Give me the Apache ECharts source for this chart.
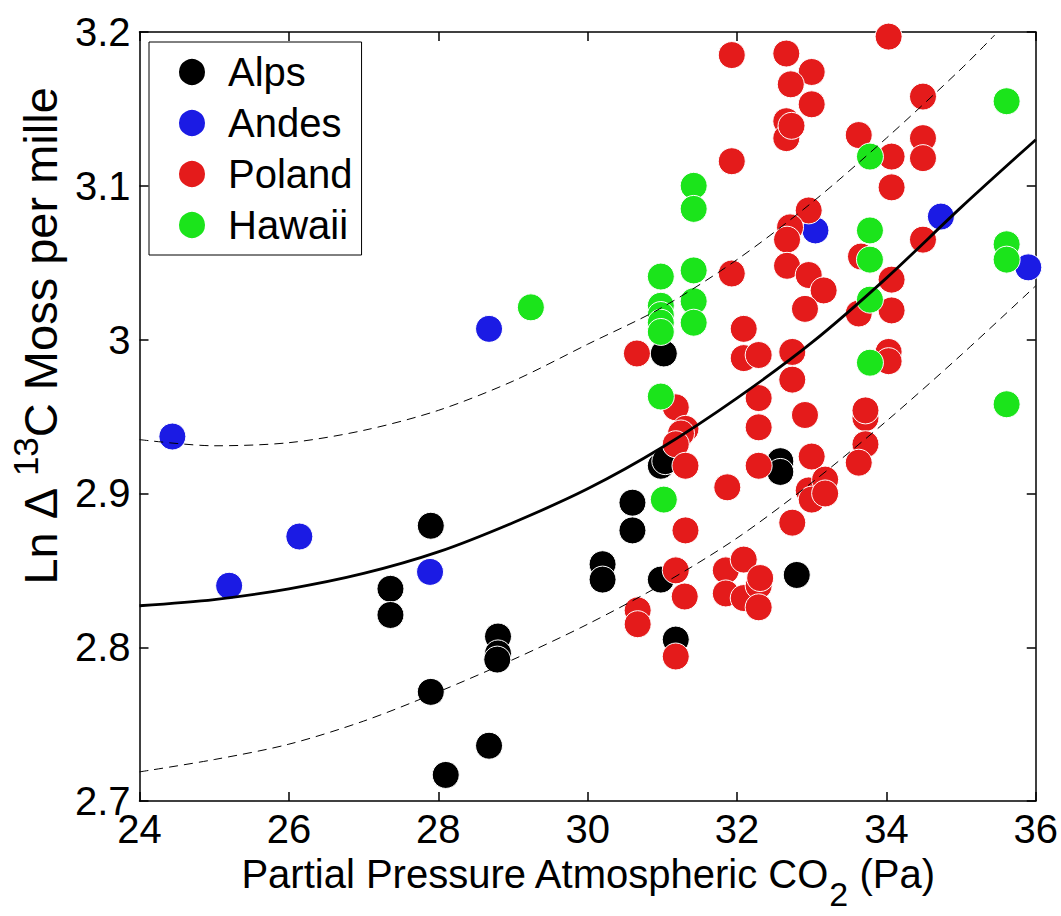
<!DOCTYPE html>
<html>
<head>
<meta charset="utf-8">
<script src="https://cdn.jsdelivr.net/npm/echarts@6/dist/echarts.min.js"></script>
<style>
  html, body { margin: 0; padding: 0; background: #fff; }
  #chart { width: 1061px; height: 916px; }
</style>
</head>
<body>
<div id="chart"></div>
<script>
// [CO2 partial pressure (Pa), ln Δ13C moss]
const alps = [
  [31.02, 2.991], [30.60, 2.894], [30.60, 2.876], [30.20, 2.854], [30.20, 2.844],
  [30.98, 2.918], [31.04, 2.921], [30.98, 2.844], [31.18, 2.805], [32.58, 2.921],
  [32.58, 2.914], [32.80, 2.847], [27.90, 2.879], [27.36, 2.838], [27.36, 2.821],
  [28.80, 2.807], [28.80, 2.796], [28.79, 2.792], [27.90, 2.771], [28.68, 2.736],
  [28.10, 2.717],
];
const andes = [
  [24.44, 2.937], [25.20, 2.840], [26.14, 2.872], [27.89, 2.849], [28.68, 3.007],
  [33.05, 3.071], [34.73, 3.080], [35.90, 3.047],
];
const poland = [
  [31.93, 3.185], [32.66, 3.186], [33.00, 3.174], [32.72, 3.166], [33.00, 3.153],
  [32.66, 3.142], [32.66, 3.131], [32.73, 3.139], [33.63, 3.133], [31.93, 3.116],
  [32.96, 3.084], [32.71, 3.073], [32.67, 3.065], [32.67, 3.048], [32.96, 3.042],
  [33.16, 3.032], [31.93, 3.043], [32.91, 3.020], [33.66, 3.054], [34.03, 3.197],
  [34.49, 3.158], [34.49, 3.131], [34.49, 3.118], [34.07, 3.119], [34.07, 3.099],
  [34.49, 3.065], [34.07, 3.039], [33.63, 3.017], [34.07, 3.019], [34.03, 2.992],
  [34.03, 2.986], [33.72, 2.949], [33.72, 2.954], [33.72, 2.932], [33.63, 2.920],
  [30.66, 2.991], [31.18, 2.956], [31.31, 2.942], [31.25, 2.939], [31.18, 2.932],
  [31.31, 2.918], [31.31, 2.876], [31.87, 2.904], [32.29, 2.918], [33.00, 2.924],
  [32.96, 2.902], [33.18, 2.909], [33.00, 2.896], [33.18, 2.900], [32.74, 2.881],
  [32.29, 2.943], [32.29, 2.962], [32.91, 2.951], [32.09, 3.007], [32.09, 2.988],
  [32.29, 2.990], [32.74, 2.992], [32.74, 2.974], [31.18, 2.850], [31.30, 2.833],
  [30.67, 2.824], [30.67, 2.815], [31.18, 2.794], [31.85, 2.850], [32.09, 2.857],
  [31.85, 2.835], [32.09, 2.832], [32.29, 2.840], [32.29, 2.826], [32.31, 2.845],
];
const hawaii = [
  [29.24, 3.021], [30.98, 3.041], [30.98, 3.022], [30.98, 3.016], [30.98, 3.011],
  [30.98, 3.005], [30.98, 2.963], [31.02, 2.896], [31.42, 3.100], [31.42, 3.085],
  [31.42, 3.045], [31.42, 3.025], [31.42, 3.011], [33.78, 3.119], [33.78, 3.071],
  [33.78, 3.052], [33.78, 3.026], [33.78, 2.985], [35.61, 3.155], [35.61, 3.062],
  [35.61, 3.052], [35.61, 2.958],
];

// fitted curve and its bounds
const fitX = [24, 25, 26, 27, 28, 29, 30, 31, 32, 33, 34, 35, 36];
const fitMid = [2.827, 2.831, 2.838, 2.848, 2.862, 2.881, 2.903, 2.930, 2.962, 2.998, 3.040, 3.086, 3.130];
const fitLow = [2.719, 2.727, 2.737, 2.752, 2.771, 2.792, 2.815, 2.841, 2.871, 2.907, 2.947, 2.990, 3.035];
const fitHighX = [24, 25, 26, 27, 28, 29, 30, 31, 32, 33, 34, 35, 35.45];
const fitHigh = [2.935, 2.931, 2.933, 2.941, 2.954, 2.973, 2.997, 3.021, 3.052, 3.089, 3.131, 3.176, 3.198];

const seriesNames = ['Alps', 'Andes', 'Poland', 'Hawaii'];
const seriesColors = ['#000000', '#1b1be4', '#e41b1b', '#1be41b'];

const FONT = '"Liberation Sans", Arial, sans-serif';
const zip = (xs, ys) => xs.map((x, i) => [x, ys[i]]);

const scatter = (name, data, color) => ({
  name,
  type: 'scatter',
  data,
  symbol: 'circle',
  symbolSize: 27,
  itemStyle: { color, borderColor: '#fff', borderWidth: 1, opacity: 1 },
  emphasis: { disabled: true },
  z: 3,
});

const fitLine = (data, dashed) => ({
  type: 'line',
  data,
  symbol: 'none',
  smooth: 0.3,
  silent: true,
  lineStyle: dashed
    ? { color: '#000', width: 1, type: [9, 6] }
    : { color: '#000', width: 2.8 },
  z: 4,
});

const frameAxis = {
  min: 24,
  max: 36,
  interval: 2,
};

const chart = echarts.init(document.getElementById('chart'), null, { renderer: 'svg' });

chart.setOption({
  animation: false,
  backgroundColor: '#fff',
  grid: { left: 139, top: 32, width: 899, height: 781 },
  legend: {
    orient: 'vertical',
    left: 149,
    top: 42,
    padding: [10, 9, 10, 28],
    itemWidth: 28,
    itemHeight: 28,
    itemGap: 11,
    icon: 'circle',
    borderColor: '#000',
    borderWidth: 1,
    borderRadius: 0,
    backgroundColor: '#fff',
    selectedMode: false,
    textStyle: { fontFamily: FONT, fontSize: 40, color: '#000', lineHeight: 40, padding: [0, 0, 0, 17] },
    data: seriesNames,
  },
  xAxis: [
    {
      type: 'value',
      ...frameAxis,
      position: 'bottom',
      name: '{n|Partial Pressure Atmospheric CO}{sub|2}{n| (Pa)}',
      nameLocation: 'middle',
      nameGap: 48,
      nameTextStyle: {
        fontFamily: FONT,
        color: '#000',
        rich: {
          n: { fontFamily: FONT, fontSize: 40, lineHeight: 44, verticalAlign: 'top', color: '#000' },
          sub: { fontFamily: FONT, fontSize: 34, lineHeight: 34, padding: [23, 0, 0, 0], verticalAlign: 'top', color: '#000' },
        },
      },
      axisLine: { show: true, onZero: false, lineStyle: { color: '#000', width: 1.5 } },
      axisTick: { inside: true, length: 9, lineStyle: { color: '#000', width: 1.5 } },
      axisLabel: { fontFamily: FONT, fontSize: 40, color: '#000', margin: 8 },
      splitLine: { show: false },
    },
    {
      type: 'value',
      ...frameAxis,
      position: 'top',
      axisLine: { show: true, onZero: false, lineStyle: { color: '#000', width: 1.5 } },
      axisTick: { inside: true, length: 9, lineStyle: { color: '#000', width: 1.5 } },
      axisLabel: { show: false },
      splitLine: { show: false },
    },
  ],
  yAxis: [
    {
      type: 'value',
      min: 2.7,
      max: 3.2,
      interval: 0.1,
      position: 'left',
      name: '{n|Ln Δ }{sup|13}{n|C Moss per mille}',
      nameLocation: 'middle',
      nameGap: 78,
      nameTextStyle: {
        fontFamily: FONT,
        color: '#000',
        // shifts the label up along the axis, as in the original
        padding: [0, 0, 0, 160],
        rich: {
          n: { fontFamily: FONT, fontSize: 47, lineHeight: 52, padding: [9, 0, 0, 0], verticalAlign: 'top', color: '#000' },
          sup: { fontFamily: FONT, fontSize: 35, lineHeight: 35, verticalAlign: 'top', color: '#000' },
        },
      },
      axisLine: { show: true, onZero: false, lineStyle: { color: '#000', width: 1.5 } },
      axisTick: { inside: true, length: 9, lineStyle: { color: '#000', width: 1.5 } },
      axisLabel: {
        fontFamily: FONT,
        fontSize: 40,
        color: '#000',
        margin: 9,
        formatter: v => String(Math.round(v * 10) / 10),
      },
      splitLine: { show: false },
    },
    {
      type: 'value',
      min: 2.7,
      max: 3.2,
      interval: 0.1,
      position: 'right',
      axisLine: { show: true, onZero: false, lineStyle: { color: '#000', width: 1.5 } },
      axisTick: { inside: true, length: 9, lineStyle: { color: '#000', width: 1.5 } },
      axisLabel: { show: false },
      splitLine: { show: false },
    },
  ],
  series: [
    scatter(seriesNames[0], alps, seriesColors[0]),
    scatter(seriesNames[1], andes, seriesColors[1]),
    scatter(seriesNames[2], poland, seriesColors[2]),
    scatter(seriesNames[3], hawaii, seriesColors[3]),
    fitLine(zip(fitX, fitMid), false),
    fitLine(zip(fitX, fitLow), true),
    fitLine(zip(fitHighX, fitHigh), true),
  ],
});
</script>
</body>
</html>
